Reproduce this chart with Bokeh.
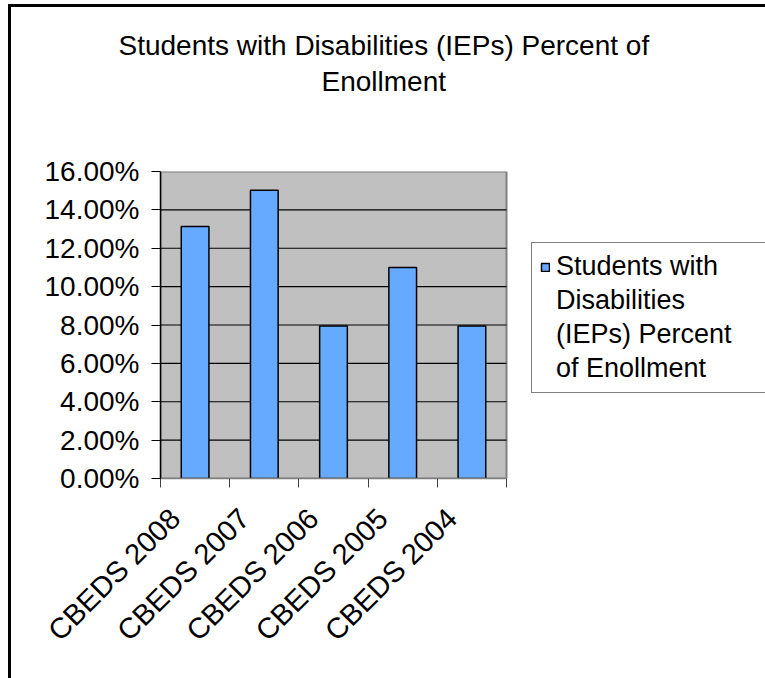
import math
from bokeh.plotting import figure
from bokeh.models import (Range1d, FixedTicker, NumeralTickFormatter, Title,
                          Legend, LegendItem, ColumnDataSource)
from bokeh.embed import file_html
from bokeh.resources import INLINE

# ---- data ----
categories = ["CBEDS 2008", "CBEDS 2007", "CBEDS 2006", "CBEDS 2005", "CBEDS 2004"]
values = [0.1313, 0.1502, 0.0795, 0.1100, 0.0795]
y_ticks = [0.0, 0.02, 0.04, 0.06, 0.08, 0.10, 0.12, 0.14, 0.16]
title_lines = ["Students with Disabilities (IEPs) Percent of", "Enollment"]
legend_lines = ["Students with", "Disabilities", "(IEPs) Percent", "of Enollment"]

FONT = "Liberation Sans"
W, H = 765, 678
LEFT, TOP, BOTTOM = 160, 171, 200
PLOT_W = 346                      # width of the grey plot area in pixels
FRAME_W = W - LEFT                # frame also holds the legend on its right
n = len(categories)
centers = list(range(n))
bounds = [c - 0.5 for c in centers] + [centers[-1] + 0.5]
x_lo, x_hi = -0.5, n - 0.5
y_lo, y_hi = y_ticks[0], y_ticks[-1]
x_end = x_lo + n * FRAME_W / PLOT_W
LABEL_SHIFT = -0.29  # rotated labels end a little left of the category centre
label_pos = [round(c + LABEL_SHIFT, 2) for c in centers]
grid_vals = [t for t in y_ticks if y_lo < t < y_hi]

p = figure(width=W, height=H, output_backend="svg", toolbar_location=None,
           x_range=Range1d(x_lo, x_end), y_range=Range1d(y_lo, y_hi),
           min_border_left=LEFT, min_border_right=0, min_border_top=TOP,
           min_border_bottom=BOTTOM)

p.background_fill_color = "white"
p.border_fill_alpha = 0
p.outline_line_color = None
# outer chart frame (top and left edges visible, the rest runs off the page)
p.styles = {
    "background": "linear-gradient(black, black) 8px 4px / 3px 800px no-repeat, "
                  "linear-gradient(black, black) 8px 4px / 900px 3px no-repeat, white"
}

# grey plot area with its border
p.quad(left=[x_lo], right=[x_hi], bottom=[y_lo], top=[y_hi],
       fill_color="#C0C0C0", line_color="#808080", line_width=2)
# horizontal gridlines limited to the plot area
p.segment(x0=[x_lo] * len(grid_vals), x1=[x_hi] * len(grid_vals),
          y0=grid_vals, y1=grid_vals, line_color="black", line_width=1.2)

src = ColumnDataSource(dict(x=centers, top=values, cat=categories))
bars = p.vbar(x="x", top="top", width=0.4, source=src, fill_color="#66AAFF",
              line_color="black", line_width=1.5)
# empty, invisible renderer that carries the continuation lines of the legend text
blank = p.vbar(x=[], top=[], width=0.4, fill_alpha=0, line_alpha=0)

p.xgrid.visible = False
p.ygrid.visible = False

# x axis
xa = p.xaxis[0]
xa.bounds = (x_lo, x_hi)
xa.ticker = FixedTicker(ticks=label_pos, minor_ticks=bounds)
xa.major_label_overrides = {lp: n_ for lp, n_ in zip(label_pos, categories)}
xa.major_label_orientation = math.pi / 4
xa.major_tick_out = 0
xa.major_tick_in = 0
xa.minor_tick_out = 9
xa.minor_tick_in = 0
xa.minor_tick_line_color = "#404040"
xa.axis_line_color = "#808080"
xa.axis_line_width = 1.5
xa.major_label_text_font = FONT
xa.major_label_text_font_size = "29px"
xa.major_label_text_color = "black"
xa.major_label_standoff = 26

# y axis
ya = p.yaxis[0]
ya.ticker = FixedTicker(ticks=y_ticks)
ya.formatter = NumeralTickFormatter(format="0.00%")
ya.major_tick_out = 9
ya.major_tick_in = 0
ya.minor_tick_line_color = None
ya.axis_line_color = "black"
ya.axis_line_width = 1.5
ya.major_tick_line_color = "black"
ya.major_label_text_font = FONT
ya.major_label_text_font_size = "28px"
ya.major_label_text_color = "black"
ya.major_label_standoff = 12

# title: spacer first (closest to the plot), then second line, then first line
title_style = dict(text_font=FONT, text_font_size="28px", text_font_style="normal",
                   text_color="black")
p.add_layout(Title(text=" ", align="left", standoff=40, **title_style), "above")
p.add_layout(Title(text=title_lines[1], align="left", offset=161, standoff=3,
                   **title_style), "above")
p.add_layout(Title(text=title_lines[0], align="left", offset=-42, standoff=3,
                   **title_style), "above")

# legend, placed in the frame to the right of the grey plot area
items = [LegendItem(label=legend_lines[0], renderers=[bars])]
items += [LegendItem(label=t, renderers=[blank]) for t in legend_lines[1:]]
legend = Legend(items=items, location=(371, 85), label_text_font=FONT,
                label_text_font_size="27px", label_text_color="black",
                glyph_width=10, glyph_height=10,
                border_line_color="black", border_line_width=1.2,
                background_fill_color="white", background_fill_alpha=1,
                padding=8, spacing=3, label_standoff=6, label_width=225)
p.add_layout(legend, "center")

open("out.html", "w").write(file_html(p, INLINE))
